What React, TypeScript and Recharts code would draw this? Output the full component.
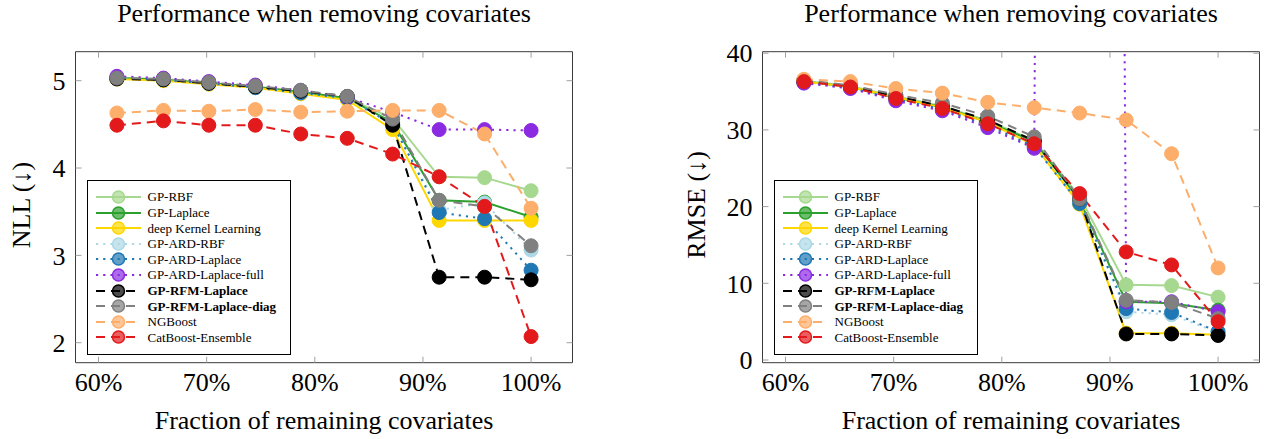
import { LineChart, Line, XAxis, YAxis } from 'recharts';

const fractions = [61.7, 66.0, 70.2, 74.5, 78.7, 83.0, 87.2, 91.5, 95.7, 100];
const xTicks = [60, 70, 80, 90, 100];

const seriesNames = [
  'GP-RBF',
  'GP-Laplace',
  'deep Kernel Learning',
  'GP-ARD-RBF',
  'GP-ARD-Laplace',
  'GP-ARD-Laplace-full',
  'GP-RFM-Laplace',
  'GP-RFM-Laplace-diag',
  'NGBoost',
  'CatBoost-Ensemble',
];

// NLL per method
const gpRbfNll = [5.03, 5.02, 4.98, 4.93, 4.87, 4.8, 4.57, 3.9, 3.89, 3.74];
const gpLaplaceNll = [5.03, 5.01, 4.97, 4.93, 4.87, 4.8, 4.52, 3.63, 3.61, 3.44];
const dklNll = [5.02, 5.0, 4.96, 4.92, 4.85, 4.78, 4.44, 3.4, 3.4, 3.4];
const gpArdRbfNll = [5.03, 5.01, 4.97, 4.93, 4.86, 4.8, 4.5, 3.52, 3.6, 3.06];
const gpArdLaplaceNll = [5.03, 5.01, 4.97, 4.92, 4.86, 4.8, 4.5, 3.49, 3.42, 2.83];
const gpArdFullNll = [5.05, 5.03, 4.99, 4.95, 4.89, 4.81, 4.64, 4.44, 4.44, 4.43];
const rfmNll = [5.02, 5.01, 4.97, 4.93, 4.88, 4.82, 4.49, 2.75, 2.75, 2.72];
const rfmDiagNll = [5.03, 5.02, 4.98, 4.94, 4.89, 4.82, 4.56, 3.63, 3.56, 3.11];
const ngboostNll = [4.63, 4.66, 4.65, 4.67, 4.64, 4.65, 4.66, 4.66, 4.39, 3.54];
const catboostNll = [4.49, 4.54, 4.49, 4.49, 4.39, 4.34, 4.16, 3.9, 3.56, 2.07];

// RMSE per method (GP-ARD-Laplace-full blows up at 87.2%, off the axis)
const gpRbfRmse = [36.4, 35.7, 34.4, 33.1, 31.2, 28.6, 21.3, 9.8, 9.7, 8.2];
const gpLaplaceRmse = [36.3, 35.6, 34.2, 33.0, 31.0, 28.5, 20.8, 7.6, 7.4, 6.5];
const dklRmse = [36.3, 35.6, 34.3, 32.9, 31.0, 28.0, 20.3, 3.5, 3.5, 3.3];
const gpArdRbfRmse = [36.2, 35.5, 34.0, 32.7, 30.6, 27.8, 20.5, 6.3, 5.9, 3.6];
const gpArdLaplaceRmse = [36.2, 35.5, 34.0, 32.7, 30.6, 27.8, 20.4, 6.7, 6.2, 3.7];
const gpArdFullRmse = [36.1, 35.4, 33.8, 32.5, 30.3, 27.6, 1000, 7.6, 7.6, 6.3];
const rfmRmse = [36.4, 35.7, 34.4, 33.1, 31.3, 28.6, 21.0, 3.4, 3.4, 3.2];
const rfmDiagRmse = [36.5, 35.8, 34.6, 33.5, 31.8, 29.1, 21.0, 7.8, 7.5, 5.4];
const ngboostRmse = [36.6, 36.3, 35.4, 34.8, 33.6, 32.9, 32.2, 31.3, 26.9, 12.0];
const catboostRmse = [36.3, 35.6, 34.1, 32.8, 30.8, 28.2, 21.7, 14.1, 12.4, 5.0];

const nllSeries = [gpRbfNll, gpLaplaceNll, dklNll, gpArdRbfNll, gpArdLaplaceNll, gpArdFullNll, rfmNll, rfmDiagNll, ngboostNll, catboostNll];
const rmseSeries = [gpRbfRmse, gpLaplaceRmse, dklRmse, gpArdRbfRmse, gpArdLaplaceRmse, gpArdFullRmse, rfmRmse, rfmDiagRmse, ngboostRmse, catboostRmse];

const SOLID = undefined;
const DOTTED = '2.2 5';
const DASHED = '9 6';

const styles = [
  { color: '#a6d98f', dash: SOLID, bold: false },
  { color: '#2ca02c', dash: SOLID, bold: false },
  { color: '#ffd700', dash: SOLID, bold: false },
  { color: '#add8e6', dash: DOTTED, bold: false },
  { color: '#1f77b4', dash: DOTTED, bold: false },
  { color: '#8a2be2', dash: DOTTED, bold: false },
  { color: '#000000', dash: DASHED, bold: true },
  { color: '#808080', dash: DASHED, bold: true },
  { color: '#fdae6b', dash: DASHED, bold: false },
  { color: '#e31a1c', dash: DASHED, bold: false },
];

const FONT = "'Liberation Serif', 'Times New Roman', serif";
const FS = 26;
const PLOT_TOP = 51.7;
const PLOT_BOTTOM = 362.7;
const PLOT_LEFT = 75.5;
const PLOT_W = 497;
const CHART_W = 579;
const CHART_H = 439;
const X_DOMAIN: [number, number] = [57.87, 103.83];

function buildRows(values: number[][]) {
  return fractions.map((f, i) => {
    const row: Record<string, number> = { x: f };
    values.forEach((vals, s) => {
      row['s' + s] = vals[i];
    });
    return row;
  });
}

const noTick = () => <g />;

function Legend({ left, top }: { left: number; top: number }) {
  return (
    <div
      style={{
        position: 'absolute',
        left,
        top,
        width: 204,
        height: 175,
        border: '1px solid #000',
        background: '#fff',
        boxSizing: 'border-box',
        paddingTop: 8,
        fontFamily: FONT,
        fontSize: 13,
      }}
    >
      {seriesNames.map((name, i) => {
        const st = styles[i];
        return (
          <div key={name} style={{ height: 15.6, display: 'flex', alignItems: 'center', whiteSpace: 'nowrap' }}>
            <svg width={52} height={16} style={{ marginLeft: 8, flex: 'none' }}>
              <line x1={0} x2={45} y1={8} y2={8} stroke={st.color} strokeWidth={2} strokeDasharray={st.dash} />
              <circle cx={22.5} cy={8} r={6} fill={st.color} fillOpacity={0.7} stroke={st.color} strokeWidth={1.5} />
            </svg>
            <span style={{ fontWeight: st.bold ? 'bold' : 'normal', lineHeight: '15px' }}>{name}</span>
          </div>
        );
      })}
    </div>
  );
}

interface PanelProps {
  offset: number;
  values: number[][];
  yDomain: [number, number];
  yTicks: number[];
  yLabel: string;
  yLabelX: number;
}

function Panel({ offset, values, yDomain, yTicks, yLabel, yLabelX }: PanelProps) {
  const rows = buildRows(values);
  const centerX = offset + PLOT_LEFT + PLOT_W / 2;
  const axisLine = { stroke: '#3a3a3a', strokeWidth: 1 };
  const tickLine = { stroke: '#a0a0a0', strokeWidth: 1 };
  const tickFont = { fontFamily: FONT, fontSize: FS, fill: '#000' };
  return (
    <>
      <div
        style={{
          position: 'absolute',
          left: centerX,
          top: 1,
          transform: 'translateX(-50%)',
          fontFamily: FONT,
          fontSize: FS,
          lineHeight: '26px',
          whiteSpace: 'nowrap',
        }}
      >
        Performance when removing covariates
      </div>
      <div style={{ position: 'absolute', left: offset, top: 0 }}>
        <LineChart
          width={CHART_W}
          height={CHART_H}
          data={rows}
          margin={{ top: PLOT_TOP - 1, right: CHART_W - PLOT_LEFT - PLOT_W - 1, bottom: CHART_H - PLOT_BOTTOM - 60, left: PLOT_LEFT - 60 }}
        >
          <XAxis
            dataKey="x"
            type="number"
            domain={X_DOMAIN}
            ticks={xTicks}
            allowDataOverflow
            height={60}
            tickSize={-6}
            tickMargin={15.5}
            axisLine={axisLine}
            tickLine={tickLine}
            tick={tickFont}
            tickFormatter={(v: number) => `${v}%`}
            interval={0}
          />
          <XAxis
            xAxisId="top"
            dataKey="x"
            type="number"
            orientation="top"
            domain={X_DOMAIN}
            ticks={xTicks}
            allowDataOverflow
            height={1}
            tickSize={-6}
            axisLine={axisLine}
            tickLine={tickLine}
            tick={noTick}
            interval={0}
          />
          <YAxis
            type="number"
            domain={yDomain}
            ticks={yTicks}
            allowDataOverflow
            width={60}
            tickSize={-6}
            tickMargin={16}
            axisLine={axisLine}
            tickLine={tickLine}
            tick={tickFont}
            interval={0}
          />
          <YAxis
            yAxisId="right"
            type="number"
            orientation="right"
            domain={yDomain}
            ticks={yTicks}
            allowDataOverflow
            width={1}
            tickSize={-6}
            axisLine={axisLine}
            tickLine={tickLine}
            tick={noTick}
            interval={0}
          />
          {seriesNames.map((name, i) => {
            const st = styles[i];
            return (
              <Line
                key={name}
                dataKey={'s' + i}
                name={name}
                type="linear"
                stroke={st.color}
                strokeWidth={2}
                strokeDasharray={st.dash}
                dot={{ r: 7, fill: st.color, stroke: st.color, strokeWidth: 1, strokeDasharray: 'none', fillOpacity: 1 }}
                activeDot={false}
                isAnimationActive={false}
              />
            );
          })}
        </LineChart>
      </div>
      <Legend left={offset + PLOT_LEFT + 11} top={PLOT_TOP + 128.5} />
      <div
        style={{
          position: 'absolute',
          left: yLabelX,
          top: (PLOT_TOP + PLOT_BOTTOM) / 2 - 2,
          transform: 'translate(-50%, -50%) rotate(-90deg)',
          fontFamily: FONT,
          fontSize: FS,
          lineHeight: '26px',
          whiteSpace: 'nowrap',
        }}
      >
        {yLabel}
      </div>
      <div
        style={{
          position: 'absolute',
          left: centerX,
          top: 407.6,
          transform: 'translateX(-50%)',
          fontFamily: FONT,
          fontSize: FS,
          lineHeight: '26px',
          whiteSpace: 'nowrap',
        }}
      >
        Fraction of remaining covariates
      </div>
    </>
  );
}

export default function App() {
  return (
    <div style={{ position: 'absolute', left: 0, top: 0, width: 1266, height: 439, background: '#fff', overflow: 'hidden' }}>
      <Panel offset={0} values={nllSeries} yDomain={[1.771, 5.332]} yTicks={[2, 3, 4, 5]} yLabel="NLL (↓)" yLabelX={22} />
      <Panel offset={687} values={rmseSeries} yDomain={[-0.35, 40.2]} yTicks={[0, 10, 20, 30, 40]} yLabel="RMSE (↓)" yLabelX={697} />
    </div>
  );
}
